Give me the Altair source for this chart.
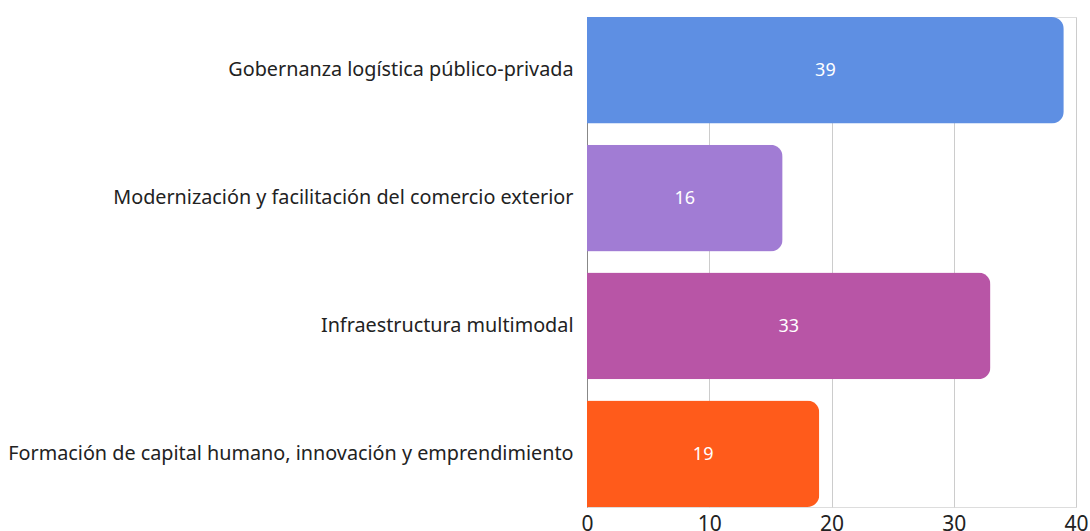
import altair as alt
import pandas as pd

categories = [
    "Gobernanza logística público-privada",
    "Modernización y facilitación del comercio exterior",
    "Infraestructura multimodal",
    "Formación de capital humano, innovación y emprendimiento",
]
values = [39, 16, 33, 19]
colors = ["#5E8FE3", "#A17CD4", "#B855A6", "#FF5B1B"]

df = pd.DataFrame({"cat": categories, "val": values, "color": colors})

FONT = "Noto Sans"

base = alt.Chart(df).encode(
    y=alt.Y(
        "cat:N",
        sort=categories,
        title=None,
        scale=alt.Scale(paddingInner=0.166, paddingOuter=0),
        axis=alt.Axis(
            labelFontSize=19.8,
            labelFont=FONT,
            labelColor="#222222",
            labelPadding=14,
            ticks=False,
            domainColor="#888888",
            labelLimit=700,
        ),
    ),
)

bars = base.mark_bar(cornerRadiusEnd=12).encode(
    x=alt.X(
        "val:Q",
        title=None,
        scale=alt.Scale(domain=[0, 40]),
        axis=alt.Axis(
            values=[0, 10, 20, 30, 40],
            labelFontSize=21,
            labelFont=FONT,
            labelColor="#222222",
            labelPadding=6,
            labelFlush=False,
            labelBound=False,
            ticks=False,
            domain=False,
            grid=True,
            gridColor="#cccccc",
        ),
    ),
    color=alt.Color("color:N", scale=None, legend=None),
)

text = base.mark_text(color="white", fontSize=18, font=FONT, dy=1).encode(
    x=alt.X("half:Q"),
    text=alt.Text("val:Q"),
).transform_calculate(half="datum.val / 2")

chart = (
    alt.layer(bars, text)
    .properties(
        width=489,
        height=490,
        autosize="none",
        padding={"left": 587, "top": 17, "right": 14, "bottom": 24},
    )
    .configure_view(stroke=None)
    .configure(background="white")
)

chart.save("out.html", embed_options={"renderer": "svg", "actions": False})
